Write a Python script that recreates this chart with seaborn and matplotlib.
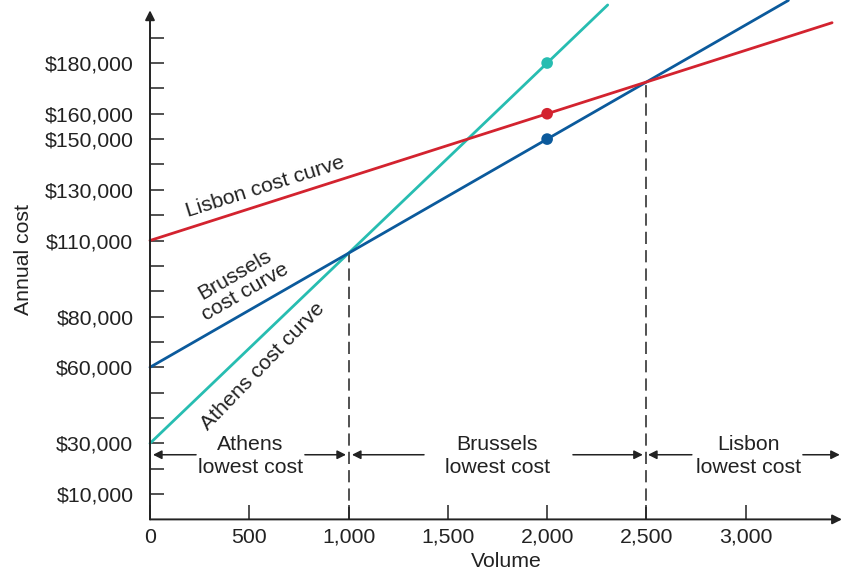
import matplotlib
matplotlib.use("Agg")
import matplotlib.pyplot as plt
import seaborn as sns
import pandas as pd

# cost curves
athens_x = [0, 2000, 2305]
athens_y = [30000, 180000, 202900]
brussels_x = [0, 2000, 3215]
brussels_y = [60000, 150000, 204700]
lisbon_x = [0, 2000, 3435]
lisbon_y = [110000, 160000, 195900]

# marked points at volume 2,000
dot_x = [2000, 2000, 2000]
dot_y = [180000, 150000, 160000]
dot_site = ["Athens", "Brussels", "Lisbon"]

# crossover volumes and the cost there
break_x = [1000, 2500]
break_y = [105000, 172500]

y_ticks = list(range(10000, 200000, 10000))
y_labeled = [10000, 30000, 60000, 80000, 110000, 130000, 150000, 160000, 180000]
x_ticks = [0, 500, 1000, 1500, 2000, 2500, 3000]

colors = {"Athens": "#27bdb1", "Brussels": "#0b5a9c", "Lisbon": "#d3232f"}

sns.set_style("white")
plt.rcParams['font.family'] = ['Liberation Sans', 'DejaVu Sans']
FS = 15.3
INK = "#222222"

df = pd.concat([
    pd.DataFrame({"Volume": athens_x, "Cost": athens_y, "Site": "Athens"}),
    pd.DataFrame({"Volume": brussels_x, "Cost": brussels_y, "Site": "Brussels"}),
    pd.DataFrame({"Volume": lisbon_x, "Cost": lisbon_y, "Site": "Lisbon"}),
])
dots = pd.DataFrame({"Volume": dot_x, "Cost": dot_y, "Site": dot_site})

fig = plt.figure(figsize=(8.43, 5.72), dpi=100)
ax = fig.add_axes([150 / 843, 1 - 519.4 / 572, 691 / 843, 519 / 572])

sns.lineplot(data=df, x="Volume", y="Cost", hue="Site", palette=colors,
             linewidth=2.0, legend=False, ax=ax, zorder=3)
for l in ax.lines:
    l.set_clip_on(False)
sns.scatterplot(data=dots, x="Volume", y="Cost", hue="Site", palette=colors,
                s=70, edgecolor="none", legend=False, ax=ax, zorder=4)

# dashed drops at crossover points
for bx, by in zip(break_x, break_y):
    ax.plot([bx, bx], [0, by], color=INK, lw=1.1, ls=(0, (8, 4)), zorder=2)

ax.set_xlim(0, 3480)
ax.set_ylim(0, 204700)

for s in ax.spines.values():
    s.set_visible(False)
# axes with arrow heads
ax.annotate("", xy=(0, 200800), xytext=(0, 0),
            arrowprops=dict(arrowstyle="-|>", color=INK, lw=1.4,
                            mutation_scale=14, shrinkA=0, shrinkB=0),
            annotation_clip=False)
ax.annotate("", xy=(3485, 0), xytext=(0, 0),
            arrowprops=dict(arrowstyle="-|>", color=INK, lw=1.4,
                            mutation_scale=14, shrinkA=0, shrinkB=0),
            annotation_clip=False)

ax.set_yticks(y_ticks)
ax.set_yticklabels(["${:,}".format(v) if v in y_labeled else "" for v in y_ticks])
ax.set_xticks(x_ticks)
ax.set_xticklabels(["{:,}".format(v) for v in x_ticks])
ax.tick_params(axis="y", direction="in", length=10, width=1.1, color=INK,
               left=True, pad=12, labelsize=FS, labelcolor=INK)
ax.tick_params(axis="x", direction="in", length=10, width=1.1, color=INK,
               bottom=True, pad=6, labelsize=FS, labelcolor=INK)

ax.set_xlabel("Volume", fontsize=FS, color=INK)
ax.set_ylabel("Annual cost", fontsize=FS, color=INK)
ax.xaxis.set_label_coords(0.515, -0.062)
ax.yaxis.set_label_coords(-0.17, 0.5)

# curve labels
ax.text(580, 131000, "Lisbon cost curve", rotation=17.5, fontsize=FS,
        ha="center", va="center", color=INK, rotation_mode="anchor")
ax.text(455, 93000, "Brussels\ncost curve", rotation=30, fontsize=FS,
        ha="center", va="center", color=INK, rotation_mode="anchor",
        linespacing=1.1)
ax.text(570, 60500, "Athens cost curve", rotation=46, fontsize=FS,
        ha="center", va="center", color=INK, rotation_mode="anchor")

# lowest cost ranges
region_text = ["Athens\nlowest cost", "Brussels\nlowest cost", "Lisbon\nlowest cost"]
region_center = [505, 1750, 3015]
arrow_y = 25500
arrow_pairs = [(232, 15), (780, 987), (1380, 1017), (2130, 2482), (2729, 2508), (3288, 3474)]
for t, cx in zip(region_text, region_center):
    ax.text(cx, 25000, t, ha="center", va="center", fontsize=FS,
            color=INK, linespacing=1.3)
for x0, x1 in arrow_pairs:
    ax.annotate("", xy=(x1, arrow_y), xytext=(x0, arrow_y),
                arrowprops=dict(arrowstyle="-|>", color=INK, lw=1.1,
                                mutation_scale=13, shrinkA=0, shrinkB=0),
                annotation_clip=False)

fig.savefig("out.png", dpi=100)
